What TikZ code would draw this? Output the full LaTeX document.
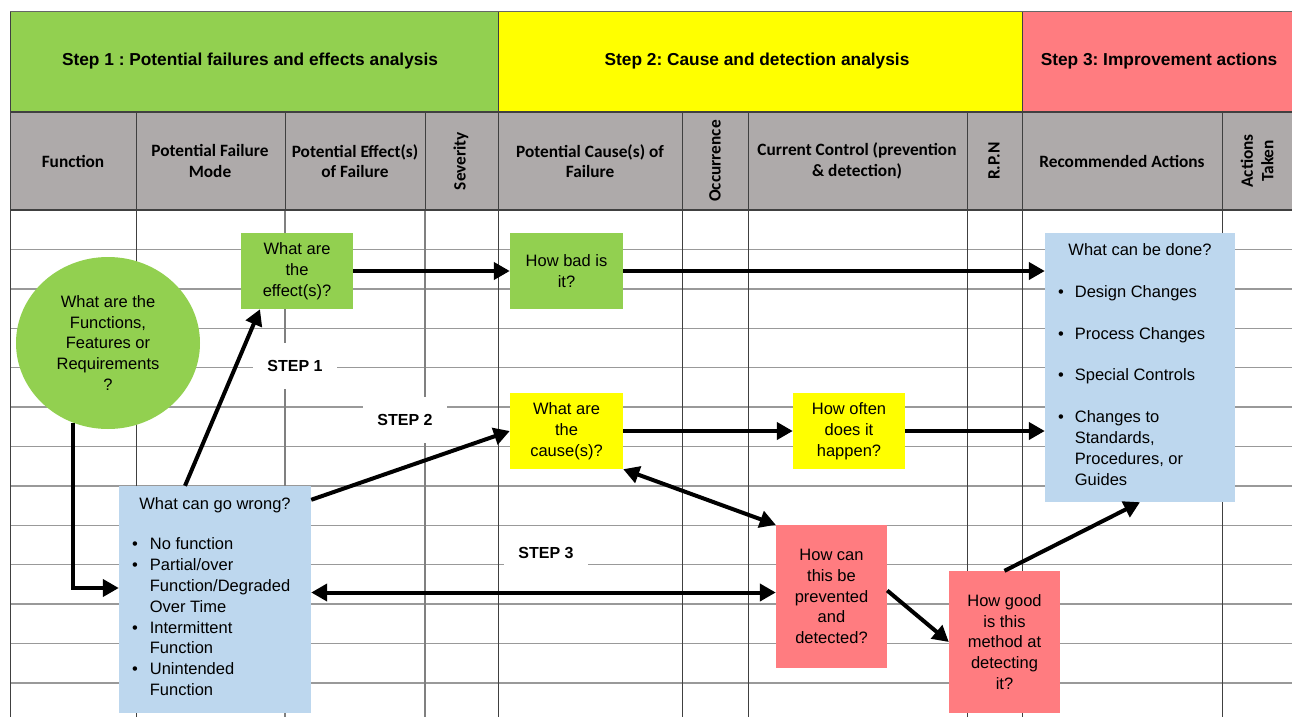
\documentclass[tikz,border=0pt]{standalone}
\usepackage{fontspec}
\setmainfont{Liberation Sans}
\newfontfamily\calibri{Carlito}
\usepackage{tikz}
\usetikzlibrary{arrows.meta,shapes.geometric}
\tikzset{>={Triangle[length=16pt,width=17pt]}}
\definecolor{stepgreen}{HTML}{92D050}
\definecolor{stepyellow}{HTML}{FFFF00}
\definecolor{stepred}{HTML}{FF7C80}
\definecolor{headgrey}{HTML}{AEAAAA}
\definecolor{listblue}{HTML}{BDD7EE}
\newcommand{\boxfont}{\fontsize{16.5}{20.8}\selectfont}
\newcommand{\colfont}{\calibri\bfseries\fontsize{17.3}{20.5}\selectfont}
\frenchspacing
\tikzset{
  qbox/.style={inner sep=0pt, align=center, font=\boxfont},
  colhead/.style={inner sep=0pt, align=center, font=\colfont},
  steptitle/.style={inner sep=0pt, font=\bfseries\fontsize{17.3}{20}\selectfont},
  steplabel/.style={fill=white, inner sep=0pt, minimum width=84pt,
    minimum height=46pt, font=\bfseries\fontsize{16}{19}\selectfont},
  flow/.style={line width=4pt},
}

\begin{document}
\begin{tikzpicture}[x=1pt,y=-1pt]

\useasboundingbox (0,0) rectangle (1292,717);

%% header bands
\fill[stepgreen]  (10,12)   rectangle (498,112);
\fill[stepyellow] (498,12)  rectangle (1022,112);
\fill[stepred]    (1022,12) rectangle (1292,112);
\fill[headgrey]   (10,112)  rectangle (1292,210);

%% worksheet grid
\foreach \r in {1,...,12}
  \draw[black!40, line width=1.4pt] (10,210+39.4*\r) -- (1292,210+39.4*\r);
\foreach \c in {10,136,498,682,748,967,1022,1222}
  \draw[black!75, line width=1pt] (\c,112) -- (\c,717);
\foreach \c in {285,425}{
  \draw[black!75, line width=1pt] (\c,112) -- (\c,210);
  \draw[black!50, line width=1.2pt] (\c,210) -- (\c,717);
}
\draw[black!60, line width=1pt] (10,12) -- (1292,12);
\draw[black!75, line width=1pt] (10,12) -- (10,112);
\draw[black!75, line width=1pt] (498,12) -- (498,112);
\draw[black!75, line width=1pt] (1022,12) -- (1022,112);
\draw[black!75, line width=1.2pt] (10,112) -- (1292,112);
\draw[black!75, line width=1.2pt] (10,210) -- (1292,210);

\node[steptitle] (title1) at (250,61) {Step 1 : Potential failures and effects analysis};
\node[steptitle] (title2) at (757,61) {Step 2: Cause and detection analysis};
\node[steptitle] (title3) at (1159,61) {Step 3: Improvement actions};

\node[colhead] (hfunc)  at (73,161)   {Function};
\node[colhead] (hmode)  at (210,161)  {Potential Failure\\Mode};
\node[colhead] (heff)   at (355,161)  {Potential Effect(s)\\of Failure};
\node[colhead, rotate=90] (hsev) at (461,161) {Severity};
\node[colhead] (hcause) at (590,161)  {Potential Cause(s) of\\Failure};
\node[colhead, rotate=90] (hocc) at (715,161) {Occurrence};
\node[colhead] (hctrl)  at (857,161)  {Current Control (prevention\\\& detection)};
\node[colhead, rotate=90] (hrpn) at (994,161) {R.P.N};
\node[colhead] (hrec)   at (1122,161) {Recommended Actions};
\node[colhead, rotate=90] (htaken) at (1257,161) {Actions\\Taken};

%% step labels
\node[steplabel] (step1) at (295,366) {STEP 1};
\node[steplabel] (step2) at (405,420) {STEP 2};
\node[steplabel] (step3) at (546,553) {STEP 3};

%% question boxes
\node[qbox, ellipse, fill=stepgreen, minimum width=184pt, minimum height=172pt]
  (func) at (108,343) {What are the\\Functions,\\Features or\\Requirements\\?};
\node[qbox, fill=stepgreen, minimum width=112pt, minimum height=76pt]
  (effects) at (297,271) {What are\\the\\effect(s)?};
\node[qbox, fill=stepgreen, minimum width=113pt, minimum height=76pt]
  (howbad) at (566.5,271) {How bad is\\it?};
\node[qbox, fill=stepyellow, minimum width=113pt, minimum height=76pt]
  (cause) at (566.5,431) {What are\\the\\cause(s)?};
\node[qbox, fill=stepyellow, minimum width=112pt, minimum height=76pt]
  (often) at (849,431) {How often\\does it\\happen?};
\node[qbox, fill=stepred, minimum width=111pt, minimum height=143pt]
  (prevent) at (831.5,596.5) {How can\\this be\\prevented\\and\\detected?};
\node[qbox, fill=stepred, minimum width=111pt, minimum height=142pt]
  (good) at (1004.5,642) {How good\\is this\\method at\\detecting\\it?};
\node[qbox, fill=listblue, minimum width=192pt, minimum height=227pt]
  (wrong) at (215,599.5) {What can go wrong?\\[20pt]%
  \begin{tabular}[t]{@{}l@{\hspace{12pt}}p{148pt}@{}}
  \textbullet & No function\\
  \textbullet & Partial/over\\
   & Function/Degraded\\
   & Over Time\\
  \textbullet & Intermittent\\
   & Function\\
  \textbullet & Unintended\\
   & Function
  \end{tabular}};
\node[qbox, fill=listblue, minimum width=190pt, minimum height=269pt]
  (done) at (1140,367.5) {What can be done?\\[21pt]%
  \begin{tabular}[t]{@{}l@{\hspace{11pt}}p{147pt}@{}}
  \textbullet & Design Changes\\[21pt]
  \textbullet & Process Changes\\[21pt]
  \textbullet & Special Controls\\[21pt]
  \textbullet & Changes to\\
   & Standards,\\
   & Procedures, or\\
   & Guides
  \end{tabular}};

%% connectors
\draw[->, flow] (func.246) |- ([yshift=11.5pt]wrong.west);
\draw[->, flow] ([xshift=-30pt]wrong.north) -- ([xshift=-37pt]effects.south);
\draw[->, flow] ([yshift=-14pt]wrong.north east) -- (cause.west);
\draw[->, flow] (effects.east) -- (howbad.west);
\draw[->, flow] (howbad.east) -- (howbad.east -| done.west);
\draw[->, flow] (cause.east) -- (often.west);
\draw[->, flow] (often.east) -- (often.east -| done.west);
\draw[<->, flow] (cause.south east) -- (prevent.north west);
\draw[<->, flow] ([yshift=7pt]wrong.east) -- ([yshift=7pt]wrong.east -| prevent.west);
\draw[->, flow] ([yshift=6pt]prevent.east) -- (good.west);
\draw[->, flow] (good.north) -- (done.south);

\end{tikzpicture}
\end{document}
